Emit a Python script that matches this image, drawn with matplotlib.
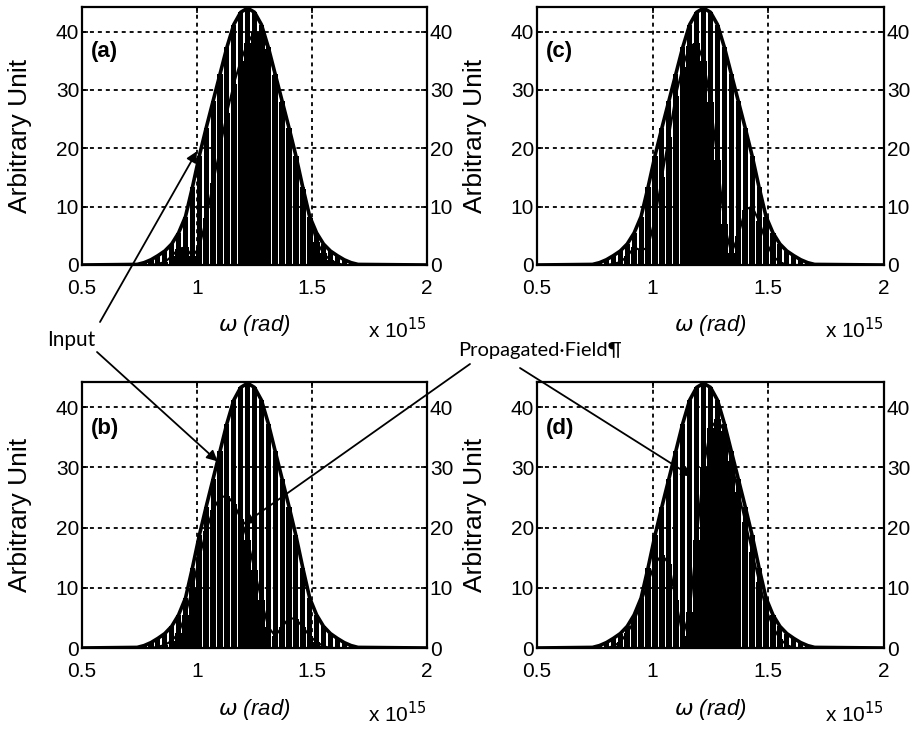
import matplotlib
matplotlib.use("Agg")
import matplotlib.pyplot as plt

# muestras de frecuencia (x 10^15 rad)
omega = [0.74, 0.77, 0.80, 0.83, 0.86, 0.89, 0.92, 0.95, 0.98, 1.01, 1.04,
         1.07, 1.10, 1.13, 1.16, 1.19, 1.22, 1.25, 1.28, 1.31, 1.34, 1.37,
         1.40, 1.43, 1.46, 1.49, 1.52, 1.55, 1.58, 1.61, 1.64, 1.67, 1.70]

# campo de entrada (igual en los 4 paneles)
entrada = [0.1, 0.4, 0.9, 1.6, 2.4, 3.6, 5.5, 8.3, 13.3, 18.7, 23.5,
           28.1, 32.7, 37.3, 41.2, 43.3, 44.0, 43.3, 41.2, 37.3, 32.7, 28.1,
           23.5, 18.7, 13.3, 8.3, 5.5, 3.6, 2.4, 1.6, 0.9, 0.4, 0.1]

# campo propagado en cada panel
prop_a = [0.0, 0.0, 0.0, 0.2, 0.5, 1.5, 2.8, 3.0, 1.5, 3.0, 8.0,
          14.0, 20.0, 26.0, 31.0, 35.0, 38.0, 40.0, 39.5, 37.0, 32.5, 28.0,
          23.5, 18.7, 13.0, 8.0, 4.0, 2.0, 0.8, 0.3, 0.0, 0.0, 0.0]
prop_b = [0.0, 0.0, 0.0, 0.2, 0.5, 1.2, 2.5, 5.5, 10.0, 15.0, 19.5,
          23.0, 25.0, 25.3, 24.0, 21.5, 18.0, 13.0, 8.0, 3.5, 2.0, 3.5,
          5.0, 4.8, 3.5, 2.0, 1.0, 0.3, 0.0, 0.0, 0.0, 0.0, 0.0]
prop_c = [0.0, 0.0, 0.0, 0.2, 0.5, 1.5, 3.0, 2.5, 3.0, 8.0, 15.0,
          22.0, 29.0, 34.0, 37.5, 38.0, 35.0, 28.0, 18.0, 7.0, 2.0, 5.0,
          9.5, 10.0, 7.5, 4.0, 1.5, 0.5, 0.0, 0.0, 0.0, 0.0, 0.0]
prop_d = [0.0, 0.0, 0.0, 0.3, 1.0, 2.5, 4.5, 7.5, 11.0, 14.0, 15.5,
          14.0, 8.0, 2.0, 6.0, 18.0, 30.0, 36.5, 38.0, 36.0, 31.0, 26.0,
          21.0, 16.0, 11.0, 6.5, 3.5, 1.5, 0.5, 0.0, 0.0, 0.0, 0.0]

paneles = ["(a)", "(b)", "(c)", "(d)"]
propagados = [prop_a, prop_b, prop_c, prop_d]

xticks = [0.5, 1, 1.5, 2]
xticklabels = ["0.5", "1", "1.5", "2"]
yticks = [0, 10, 20, 30, 40]

W, H = 919, 729
fig = plt.figure(figsize=(W / 100, H / 100), dpi=100)

fuente = ["Liberation Sans", "DejaVu Sans"]
fuente_word = ["Lato", "DejaVu Sans"]

# caja de cada panel en pixeles: izq, arriba, ancho, alto
pos = {"(a)": (82, 7, 345, 258), "(b)": (82, 382, 345, 266),
       "(c)": (537, 7, 347, 258), "(d)": (537, 382, 347, 266)}

ejes = {}
for nombre, prop in zip(paneles, propagados):
    l, t, w, h = pos[nombre]
    ax = fig.add_axes([l / W, 1 - (t + h) / H, w / W, h / H])
    ejes[nombre] = ax

    # entrada: barras negras con huecos blancos
    ax.bar(omega, entrada, width=0.022, color="black", linewidth=0, zorder=1)
    # propagado: barras casi continuas
    ax.bar(omega, prop, width=0.0275, color="black", linewidth=0, zorder=1.2)
    ax.plot(omega, prop, color="black", lw=1.5, zorder=1.5)
    # envolvente de la entrada con linea base
    ax.plot([0.5] + omega + [2.0], [0] + entrada + [0], color="black",
            lw=2.6, zorder=2, solid_joinstyle="round")

    ax.set_xlim(0.5, 2)
    ax.set_ylim(0, 44.2)
    ax.set_xticks(xticks)
    ax.set_xticklabels(xticklabels)
    ax.set_yticks(yticks)
    ax.set_axisbelow(False)
    ax.grid(True, color="black", linestyle=(0, (2.2, 2.2)), lw=1.3)
    ax.tick_params(direction="in", top=True, right=True, labelright=True,
                   length=4, width=1.2, labelsize=15, pad=2)
    ax.tick_params(axis="x", pad=10)
    for lab in ax.get_xticklabels() + ax.get_yticklabels():
        lab.set_family(fuente)
    for s in ax.spines.values():
        s.set_linewidth(1.6)

    ax.set_ylabel("Arbitrary Unit", fontsize=19, family=fuente)
    ax.yaxis.set_label_coords(-0.145, 0.5)
    ax.set_xlabel(r"$\omega$ (rad)", fontsize=16, style="italic", family=fuente)
    ax.xaxis.set_label_coords(0.5, -0.185)
    ax.text(0.54, 36.5, nombre, fontsize=16, fontweight="bold", va="center",
            family=fuente)
    ax.text(1.0, -0.2, r"x 10$^{15}$", transform=ax.transAxes, ha="right",
            va="top", fontsize=15, family=fuente)

# etiquetas de las flechas
fig.text(47 / W, 1 - 340 / H, "Input", fontsize=15, va="center",
         family=fuente_word)
fig.text(458 / W, 1 - 351 / H, "Propagated·Field¶", fontsize=14.5,
         va="center", family=fuente_word)

flecha = dict(arrowstyle="-|>", color="black", lw=1.3, mutation_scale=16,
              shrinkA=0, shrinkB=0)
ejes["(a)"].annotate("", xy=(1.0, 19.5), xytext=(100 / W, 1 - 322 / H),
                     textcoords="figure fraction", arrowprops=flecha,
                     annotation_clip=False)
ejes["(b)"].annotate("", xy=(1.09, 31), xytext=(97 / W, 1 - 352 / H),
                     textcoords="figure fraction", arrowprops=flecha,
                     annotation_clip=False)
ejes["(b)"].annotate("", xy=(1.2, 20.5), xytext=(470 / W, 1 - 364 / H),
                     textcoords="figure fraction", arrowprops=flecha,
                     annotation_clip=False)
ejes["(d)"].annotate("", xy=(1.17, 28.5), xytext=(520 / W, 1 - 368 / H),
                     textcoords="figure fraction", arrowprops=flecha,
                     annotation_clip=False)

fig.savefig("out.png", dpi=100)
